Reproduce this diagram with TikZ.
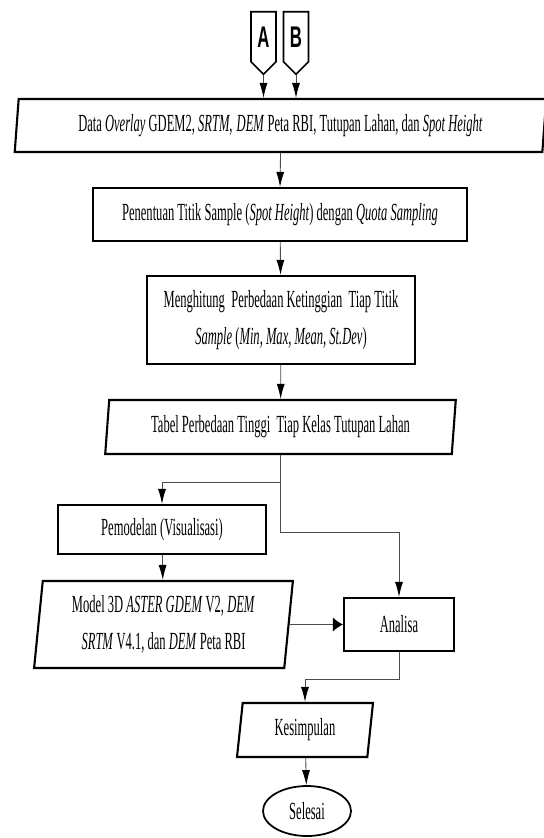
\documentclass[tikz,border=0pt]{standalone}
\usepackage{fontspec}
\setmainfont[FakeStretch=0.51]{Liberation Serif}
\newfontfamily\abfont[FakeStretch=0.56]{Liberation Sans}
\usetikzlibrary{arrows.meta,positioning,calc,shapes.geometric,shapes.symbols}

\begin{document}
\begin{tikzpicture}[x=0.02cm,y=-0.02cm,>=Latex,
  box/.style={draw,line width=1.2pt,align=center,inner sep=2pt,font=\fontsize{14}{21}\selectfont},
  para/.style={box,trapezium,trapezium left angle=84,trapezium right angle=96,trapezium stretches=true},
  term/.style={draw,ellipse,line width=1pt,inner sep=0pt,font=\fontsize{14}{16}\selectfont},
  conn/.style={draw,signal,signal to=south,line width=0.9pt,anchor=north,inner sep=0pt,
    minimum width=0.5cm,minimum height=1.12cm,font=\abfont\bfseries\fontsize{17}{17}\selectfont},
  arr/.style={-{Latex[length=0.3cm,width=0.16cm,color=black]},line width=0.5pt,black!70},
  harr/.style={-{Latex[length=0.2cm,width=0.28cm,color=black]},line width=0.5pt,black!70}]
\useasboundingbox (0,0) rectangle (544,838);
% off-page connectors
\node[conn] (A) at (263.5,11) {A};
\node[conn] (B) at (296,11) {B};
% main column
\node[para,minimum width=10.66cm,minimum height=1.06cm] (data) at (280.5,125.5)
  {Data \textit{Overlay} GDEM2, \textit{SRTM},\,\textit{DEM} Peta RBI, Tutupan Lahan, dan \textit{Spot Height}};
\node[box,minimum width=7.48cm,minimum height=1.06cm] (pen) at (280,214.5)
  {Penentuan Titik Sample (\textit{Spot Height}) dengan \textit{Quota Sampling}};
\node[box,minimum width=5.36cm,minimum height=1.76cm] (hit) at (281,320)
  {Menghitung\ \ Perbedaan Ketinggian\ \ Tiap Titik\\\textit{Sample} (\textit{Min, Max, Mean, St.Dev})};
\node[para,minimum width=7.02cm,minimum height=1.08cm] (tab) at (280.5,427)
  {Tabel Perbedaan Tinggi\ \ Tiap Kelas Tutupan Lahan};
% two branches
\node[box,minimum width=4.16cm,minimum height=0.98cm] (mod) at (162,529.5) {Pemodelan (Visualisasi)};
\node[para,minimum width=5.18cm,minimum height=1.74cm] (m3d) at (163.5,624.5)
  {Model 3D \textit{ASTER GDEM} V2, \textit{DEM}\\\textit{SRTM} V4.1, dan \textit{DEM} Peta RBI};
\node[box,minimum width=2.2cm,minimum height=1.06cm] (ana) at (399,624.5) {Analisa};
\node[para,minimum width=2.72cm,minimum height=1.08cm] (kes) at (305,730) {Kesimpulan};
\node[term,minimum width=1.76cm,minimum height=1.0cm] (sel) at (307,811) {Selesai};
\draw[arr] (A.south) -- (A.south |- data.north);
\draw[arr] (B.south) -- (B.south |- data.north);
\draw[arr] (data.south) -- (pen.north); \draw[arr] (pen) -- (hit); \draw[arr] (hit) -- (tab);
\draw[arr] (tab.south) -- ++(0,27) -| (mod.north);
\draw[arr] (tab.south) -- ++(0,77) -| (ana.north);
\draw[arr] (mod) -- (m3d); \draw[harr] (m3d.east) -- (ana.west);
\draw[arr] (ana.south) -- ++(0,27) -| (kes.north);
\draw[arr] (kes) -- (sel);
\end{tikzpicture}
\end{document}
